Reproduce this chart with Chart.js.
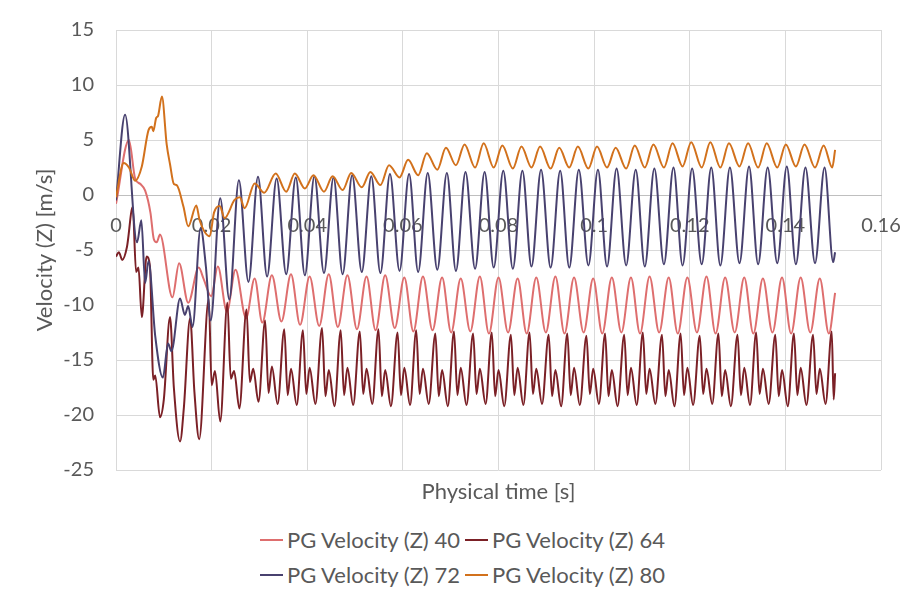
<!DOCTYPE html>
<html>
<head>
<meta charset="utf-8">
<script src="https://cdn.jsdelivr.net/npm/chart.js@4.4.0/dist/chart.umd.min.js"></script>
<style>
	html, body { margin: 0; padding: 0; background: #fff; }
	#wrap { position: relative; width: 910px; height: 598px; font-family: Lato, sans-serif; }
	#box { position: absolute; left: 0; top: 0; width: 910px; height: 515px; }
	#legend { position: absolute; left: 260px; top: 522px; color: #595959; font-size: 22px; }
	.row { display: flex; height: 35px; align-items: center; }
	.item { display: flex; align-items: center; white-space: nowrap; }
	.item:first-child { width: 205px; }
	.swatch { width: 23px; height: 2px; margin-right: 4px; }
</style>
</head>
<body>
<div id="wrap">
	<div id="box"><canvas id="chart"></canvas></div>
	<div id="legend"></div>
</div>
<script>
// series names and line colours, in legend order
const seriesNames = ['PG Velocity (Z) 40', 'PG Velocity (Z) 64', 'PG Velocity (Z) 72', 'PG Velocity (Z) 80'];
const seriesColors = ['#DE6E6E', '#7B2026', '#48416F', '#D2711C'];

// axis ranges [min, max, step]
const xRange = [0, 0.16, 0.02];
const yRange = [-25, 15, 5];

// [time s, velocity m/s]
const vel40 = [
	[0, -0.8], [0.0027, 5.0], [0.0040, 1.5], [0.0051, 1.0], [0.0061, 0.4], [0.0072, -1.6], [0.0079, -4.0],
	[0.0085, -4.3], [0.0092, -3.6], [0.0118, -9.3], [0.0132, -6.2], [0.0151, -9.8], [0.0173, -6.6],
	[0.0183, -7.6], [0.0199, -9.2], [0.0213, -6.5], [0.0232, -10.6], [0.0250, -6.8], [0.0272, -11.2],
	[0.0290, -7.6],
	[0.0306, -11.6], [0.0326, -7.3], [0.0346, -11.5], [0.0366, -7.2], [0.0385, -11.8], [0.0405, -7.4],
	[0.0425, -11.9], [0.0445, -7.2], [0.0464, -12.0], [0.0484, -7.3], [0.0504, -12.2], [0.0524, -7.4],
	[0.0543, -12.3], [0.0563, -7.3], [0.0583, -12.1], [0.0603, -7.5], [0.0622, -12.4], [0.0642, -7.4],
	[0.0662, -12.3], [0.0682, -7.5], [0.0701, -12.5], [0.0721, -7.6], [0.0741, -12.4], [0.0761, -7.4],
	[0.0780, -12.6], [0.0800, -7.5], [0.0820, -12.5], [0.0840, -7.6], [0.0859, -12.6], [0.0879, -7.5],
	[0.0899, -12.5], [0.0919, -7.4], [0.0938, -12.6], [0.0958, -7.5], [0.0978, -12.5], [0.0998, -7.6],
	[0.1017, -12.6], [0.1037, -7.5], [0.1057, -12.5], [0.1077, -7.5], [0.1096, -12.6], [0.1116, -7.4],
	[0.1136, -12.5], [0.1156, -7.5], [0.1175, -12.6], [0.1195, -7.5], [0.1215, -12.5], [0.1235, -7.4],
	[0.1254, -12.6], [0.1274, -7.5], [0.1294, -12.5], [0.1314, -7.5], [0.1333, -12.6], [0.1353, -7.6],
	[0.1373, -12.5], [0.1393, -7.5], [0.1412, -12.6], [0.1432, -7.5], [0.1452, -12.5], [0.1472, -7.6],
	[0.1491, -12.6], [0.1504, -8.9]
];

const vel64 = [
	[0, -5.6], [0.0006, -5.2], [0.0013, -5.9], [0.0023, -4.7], [0.0035, -1.1], [0.0042, -7.0], [0.0047, -6.6],
	[0.0054, -11.1], [0.0064, -5.6], [0.0071, -6.5], [0.0078, -16.8], [0.0082, -16.4], [0.0092, -20.2],
	[0.0100, -18.6], [0.0113, -11.1], [0.0121, -17.5], [0.0134, -22.4], [0.0142, -19.3], [0.0155, -11.2],
	[0.0164, -17.9], [0.0174, -22.2], [0.0194, -9.4], [0.0200, -17.3], [0.0207, -16.0], [0.0218, -20.6],
	[0.0233, -9.8], [0.0240, -16.7], [0.0247, -16.0], [0.0258, -19.4], [0.0273, -10.4], [0.0280, -17.0],
	[0.0287, -15.8], [0.0298, -18.8],
	[0.0312, -11.4], [0.0319, -18.0], [0.0326, -15.6], [0.0338, -19.0],
	[0.0352, -12.2], [0.0359, -18.2], [0.0366, -15.8], [0.0378, -19.1],
	[0.0391, -12.3], [0.0398, -18.1], [0.0405, -15.7], [0.0417, -19.0],
	[0.0431, -12.1], [0.0438, -18.3], [0.0445, -15.9], [0.0457, -19.2],
	[0.0470, -12.3], [0.0477, -18.2], [0.0484, -15.7], [0.0496, -19.1],
	[0.0510, -12.4], [0.0517, -18.1], [0.0524, -15.8], [0.0536, -19.0],
	[0.0549, -12.2], [0.0556, -18.3], [0.0563, -15.9], [0.0575, -19.2],
	[0.0589, -12.5], [0.0596, -18.2], [0.0603, -15.7], [0.0615, -19.1],
	[0.0628, -12.3], [0.0635, -18.1], [0.0642, -15.8], [0.0654, -19.0],
	[0.0668, -12.6], [0.0675, -18.3], [0.0682, -15.9], [0.0694, -19.2],
	[0.0707, -12.4], [0.0714, -18.2], [0.0721, -15.7], [0.0733, -19.1],
	[0.0747, -12.6], [0.0754, -18.1], [0.0761, -15.8], [0.0773, -19.0],
	[0.0786, -12.5], [0.0793, -18.3], [0.0800, -15.9], [0.0812, -19.2],
	[0.0826, -12.7], [0.0833, -18.2], [0.0840, -15.7], [0.0852, -19.1],
	[0.0865, -12.5], [0.0872, -18.1], [0.0879, -15.8], [0.0891, -19.0],
	[0.0905, -12.7], [0.0912, -18.3], [0.0919, -15.9], [0.0931, -19.2],
	[0.0944, -12.6], [0.0951, -18.2], [0.0958, -15.7], [0.0970, -19.1],
	[0.0984, -12.8], [0.0991, -18.1], [0.0998, -15.8], [0.1010, -19.0],
	[0.1023, -12.6], [0.1030, -18.3], [0.1037, -15.9], [0.1049, -19.2],
	[0.1063, -12.7], [0.1070, -18.2], [0.1077, -15.7], [0.1089, -19.1],
	[0.1102, -12.5], [0.1109, -18.1], [0.1116, -15.8], [0.1128, -19.0],
	[0.1142, -12.7], [0.1149, -18.3], [0.1156, -15.9], [0.1168, -19.2],
	[0.1181, -12.6], [0.1188, -18.2], [0.1195, -15.7], [0.1207, -19.1],
	[0.1221, -12.8], [0.1228, -18.1], [0.1235, -15.8], [0.1247, -19.0],
	[0.1260, -12.6], [0.1267, -18.3], [0.1274, -15.9], [0.1286, -19.2],
	[0.1300, -12.7], [0.1307, -18.2], [0.1314, -15.7], [0.1326, -19.1],
	[0.1339, -12.5], [0.1346, -18.1], [0.1353, -15.8], [0.1365, -19.0],
	[0.1379, -12.7], [0.1386, -18.3], [0.1393, -15.9], [0.1405, -19.2],
	[0.1418, -12.6], [0.1425, -18.2], [0.1432, -15.7], [0.1444, -19.1],
	[0.1458, -12.7], [0.1465, -18.1], [0.1472, -15.8], [0.1484, -19.0],
	[0.1497, -12.4], [0.1501, -18.6], [0.1504, -16.2]
];

const vel72 = [
	[0, -0.5], [0.0019, 7.3], [0.0044, -4.3], [0.0053, -2.3], [0.0061, -8.0], [0.0068, -6.0], [0.0082, -12.8],
	[0.0098, -16.6], [0.0109, -13.5], [0.0116, -14.2], [0.0134, -9.4], [0.0144, -10.9], [0.0151, -10.1],
	[0.0160, -12.0], [0.0177, -3.0], [0.0188, -6.5],
	[0.0198, -11.4], [0.0218, -0.3], [0.0237, -9.5], [0.0257, 1.35], [0.0277, -7.9], [0.0297, 1.65],
	[0.0316, -7.4], [0.0336, 1.5], [0.0356, -7.2], [0.0376, 1.6], [0.0395, -7.3], [0.0415, 1.7],
	[0.0435, -7.1], [0.0455, 1.6], [0.0474, -7.2], [0.0494, 1.8], [0.0514, -7.0], [0.0534, 1.7],
	[0.0553, -7.1], [0.0573, 1.9], [0.0593, -6.9], [0.0613, 1.9], [0.0632, -7.0], [0.0652, 2.0],
	[0.0672, -6.8], [0.0692, 2.0], [0.0711, -6.9], [0.0731, 2.1], [0.0751, -6.7], [0.0771, 2.1],
	[0.0790, -6.6], [0.0810, 2.2], [0.0830, -6.7], [0.0850, 2.2], [0.0869, -6.5], [0.0889, 2.3],
	[0.0909, -6.6], [0.0929, 2.2], [0.0948, -6.6], [0.0968, 2.3], [0.0988, -6.4], [0.1008, 2.3],
	[0.1027, -6.5], [0.1047, 2.4], [0.1067, -6.4], [0.1087, 2.3], [0.1106, -6.5], [0.1126, 2.4],
	[0.1146, -6.3], [0.1166, 2.5], [0.1185, -6.4], [0.1205, 2.4], [0.1225, -6.3], [0.1245, 2.5],
	[0.1264, -6.4], [0.1284, 2.5], [0.1304, -6.2], [0.1324, 2.6], [0.1343, -6.3], [0.1363, 2.5],
	[0.1383, -6.2], [0.1403, 2.6], [0.1422, -6.3], [0.1442, 2.5], [0.1462, -6.2], [0.1482, 2.5],
	[0.1500, -6.1], [0.1504, -5.2]
];

const vel80 = [
	[0, -0.2], [0.0016, 2.9], [0.0027, 2.5], [0.0040, 1.3], [0.0054, 2.6], [0.0068, 5.9], [0.0075, 6.2],
	[0.0078, 5.8], [0.0084, 7.0], [0.0088, 7.2], [0.0096, 8.95], [0.0106, 4.6], [0.0113, 2.8], [0.0121, 1.0],
	[0.0127, 0.9], [0.0141, -1.05], [0.0151, -2.85], [0.0168, -0.95], [0.0175, -2.3], [0.0196, -3.75],
	[0.0205, -1.6], [0.0217, -1.0], [0.0227, -2.1], [0.0248, -0.45], [0.0259, -0.2], [0.0269, -1.2],
	[0.0290, 1.05], [0.0310, 0.2],
	[0.0334, 1.95], [0.0356, 0.3], [0.0374, 1.95], [0.0395, 0.6], [0.0413, 1.8], [0.0435, 0.3],
	[0.0453, 1.7], [0.0474, 0.45], [0.0492, 2.0], [0.0514, 0.7], [0.0532, 2.1], [0.0553, 0.9],
	[0.0571, 2.7], [0.0593, 1.6], [0.0611, 3.2], [0.0632, 1.8], [0.0650, 3.8], [0.0672, 2.3],
	[0.0690, 4.3], [0.0711, 2.7], [0.0729, 4.6], [0.0751, 2.5], [0.0769, 4.7], [0.0790, 2.5],
	[0.0808, 4.5], [0.0830, 2.4], [0.0848, 4.4], [0.0869, 2.5], [0.0887, 4.4], [0.0909, 2.4],
	[0.0927, 4.3], [0.0948, 2.5], [0.0966, 4.4], [0.0988, 2.4], [0.1006, 4.4], [0.1027, 2.5],
	[0.1045, 4.3], [0.1067, 2.4], [0.1085, 4.5], [0.1106, 2.5], [0.1124, 4.6], [0.1146, 2.5],
	[0.1164, 4.7], [0.1185, 2.6], [0.1203, 4.8], [0.1225, 2.5], [0.1243, 4.8], [0.1264, 2.5],
	[0.1282, 4.7], [0.1304, 2.6], [0.1322, 4.7], [0.1343, 2.5], [0.1361, 4.7], [0.1383, 2.5],
	[0.1401, 4.6], [0.1422, 2.6], [0.1440, 4.6], [0.1462, 2.5], [0.1480, 4.5], [0.1498, 2.5],
	[0.1504, 4.1]
];

const seriesData = [vel40, vel64, vel72, vel80];

const textColor = '#595959';
const gridColor = '#D9D9D9';

Chart.defaults.font.family = 'Lato, sans-serif';
Chart.defaults.font.size = 20;
Chart.defaults.color = textColor;

// keep the plot box where the original has it, no extra room for edge labels
function noEdgePadding(scale) {
	scale.paddingLeft = 0;
	scale.paddingRight = 0;
	scale.paddingTop = 0;
	scale.paddingBottom = 0;
}

const ctx = document.getElementById('chart').getContext('2d');

const chart = new Chart(ctx, {
	type: 'line',
	data: {
		datasets: seriesData.map((points, i) => ({
			label: seriesNames[i],
			data: points.map((p) => ({ x: p[0], y: p[1] })),
			borderColor: seriesColors[i],
			backgroundColor: seriesColors[i],
			borderWidth: 2,
			pointRadius: 0,
			cubicInterpolationMode: 'monotone',
			// later series sit on top, like the original
			order: seriesData.length - i,
		})),
	},
	options: {
		responsive: true,
		maintainAspectRatio: false,
		animation: false,
		layout: { padding: { top: 30, right: 29, left: 0, bottom: 0 } },
		plugins: {
			legend: { display: false },
			tooltip: { enabled: false },
		},
		scales: {
			x: {
				type: 'linear',
				position: { y: 0 },
				min: xRange[0],
				max: xRange[1],
				ticks: {
					stepSize: xRange[2],
					padding: 19,
					maxRotation: 0,
					autoSkip: false,
					callback: (value) => String(Number(value.toFixed(2))),
				},
				grid: { color: gridColor, drawTicks: false },
				border: { color: '#BFBFBF' },
				afterFit: (scale) => {
					scale.height = 0;
					noEdgePadding(scale);
				},
			},
			// only carries the axis title under the plot
			x2: {
				type: 'linear',
				position: 'bottom',
				min: xRange[0],
				max: xRange[1],
				ticks: { display: false },
				grid: { display: false },
				border: { display: false },
				title: {
					display: true,
					text: 'Physical time [s]',
					font: { size: 22 },
					padding: { top: 0, bottom: 10 },
				},
				afterFit: (scale) => {
					scale.height = 45;
					noEdgePadding(scale);
				},
			},
			y: {
				min: yRange[0],
				max: yRange[1],
				ticks: { stepSize: yRange[2], padding: 22 },
				grid: { color: gridColor, drawTicks: false },
				border: { display: false },
				title: {
					display: true,
					text: 'Velocity (Z) [m/s]',
					font: { size: 22 },
					padding: { top: 32, bottom: 0 },
				},
				afterFit: (scale) => {
					scale.width = 116;
					noEdgePadding(scale);
				},
			},
		},
	},
});

// legend in two rows of two, built from the datasets
const legendDiv = document.getElementById('legend');
for (let r = 0; r < 2; r++) {
	let row = document.createElement('div');
	row.className = 'row';
	for (let c = 0; c < 2; c++) {
		let ds = chart.data.datasets[r * 2 + c];
		let item = document.createElement('div');
		item.className = 'item';
		item.innerHTML = `<span class="swatch" style="background:${ds.borderColor}"></span><span>${ds.label}</span>`;
		row.appendChild(item);
	}
	legendDiv.appendChild(row);
}
</script>
</body>
</html>
